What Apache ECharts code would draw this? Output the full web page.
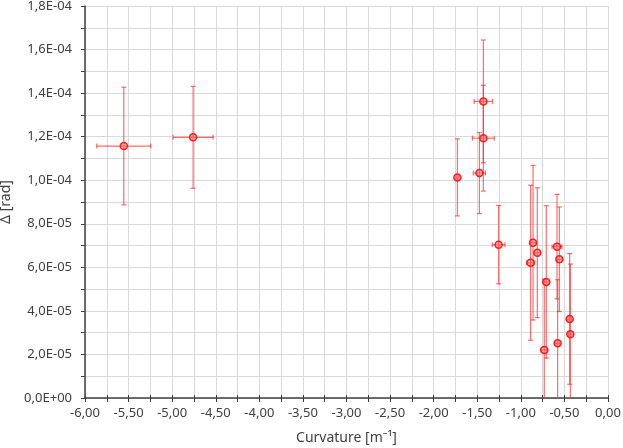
<!DOCTYPE html>
<html>
<head>
<meta charset="utf-8">
<script src="https://cdn.jsdelivr.net/npm/echarts@6/dist/echarts.min.js"></script>
<style>html,body{margin:0;padding:0;background:#fff}#c{width:623px;height:448px}</style>
</head>
<body>
<div id="c"></div>
<script>
// Data
var curvature = [-5.555, -4.76, -1.43, -1.43, -1.475, -1.728, -1.255, -0.86, -0.811, -0.888, -0.708, -0.731, -0.585, -0.558, -0.578, -0.44, -0.432];
var curvatureErr = [0.31, 0.23, 0.105, 0.125, 0.07, 0.015, 0.073, 0.03, 0.03, 0.046, 0.03, 0.038, 0.057, 0.03, 0.02, 0.02, 0.02];
var delta = [1.157e-4, 1.197e-4, 1.362e-4, 1.193e-4, 1.033e-4, 1.013e-4, 0.704e-4, 0.713e-4, 0.667e-4, 0.621e-4, 0.533e-4, 0.220e-4, 0.695e-4, 0.637e-4, 0.251e-4, 0.363e-4, 0.293e-4];
var deltaErr = [2.70e-5, 2.34e-5, 2.82e-5, 2.43e-5, 1.86e-5, 1.77e-5, 1.80e-5, 3.55e-5, 2.98e-5, 3.56e-5, 3.50e-5, 3.26e-5, 2.40e-5, 2.40e-5, 2.92e-5, 3.00e-5, 3.22e-5];
var xAxisMin = -6, xAxisMax = 0, xStep = 0.5;
var yAxisMin = 0, yAxisMax = 1.8e-4, yStep = 2e-5;

var pts = curvature.map(function (x, i) { return [x, delta[i], curvatureErr[i], deltaErr[i]]; });

function fmtX(v) { return v.toFixed(2).replace('.', ','); }
function fmtY(v) {
  if (Math.abs(v) < 1e-12) return '0,0E+00';
  var s = v.toExponential(1).split('e');
  var e = parseInt(s[1], 10);
  var es = (e < 0 ? '-' : '+') + (Math.abs(e) < 10 ? '0' : '') + Math.abs(e);
  return s[0].replace('.', ',') + 'E' + es;
}

var errColor = 'rgba(255,40,40,0.68)';
var font = 'Noto Sans';
var textColor = '#404040';
var axisColor = '#404040';
var gridColor = '#d9d9d9';

var chart = echarts.init(document.getElementById('c'), null, { renderer: 'canvas' });
chart.setOption({
  animation: false,
  backgroundColor: '#fff',
  grid: { left: 85, top: 6, width: 523, height: 392, containLabel: false, outerBoundsMode: 'none' },
  xAxis: [{
    type: 'value', min: xAxisMin, max: xAxisMax, interval: xStep,
    name: 'Curvature [m\u207B\u00B9]', nameLocation: 'middle', nameGap: 33,
    nameTextStyle: { fontFamily: font, fontSize: 14, color: textColor },
    axisLine: { onZero: false, lineStyle: { color: axisColor, width: 1.5 } },
    axisTick: { show: true, length: 4, lineStyle: { color: axisColor } },
    minorTick: { show: true, splitNumber: 2, length: 4, lineStyle: { color: axisColor } },
    axisLabel: { formatter: fmtX, fontFamily: font, fontSize: 13, color: textColor, margin: 9 },
    splitLine: { show: true, lineStyle: { color: gridColor, width: 1 } },
    minorSplitLine: { show: true, lineStyle: { color: gridColor, width: 1 } }
  }, {
    type: 'value', min: xAxisMin, max: xAxisMax, interval: xStep, position: 'bottom',
    axisLine: { show: false }, axisLabel: { show: false }, splitLine: { show: false },
    axisTick: { show: true, inside: true, length: 3, lineStyle: { color: axisColor } },
    minorTick: { show: true, splitNumber: 2, length: 3, lineStyle: { color: axisColor } }
  }],
  yAxis: {
    type: 'value', min: yAxisMin, max: yAxisMax, interval: yStep,
    name: '\u0394 [rad]', nameLocation: 'middle', nameGap: 71,
    nameTextStyle: { fontFamily: font, fontSize: 14, color: textColor },
    axisLine: { show: true, onZero: false, lineStyle: { color: axisColor, width: 1.5 } },
    axisTick: { show: true, length: 4, lineStyle: { color: axisColor } },
    minorTick: { show: true, splitNumber: 2, length: 4, lineStyle: { color: axisColor } },
    axisLabel: { formatter: fmtY, fontFamily: font, fontSize: 13, color: textColor, margin: 13 },
    splitLine: { show: true, lineStyle: { color: gridColor, width: 1 } },
    minorSplitLine: { show: true, lineStyle: { color: gridColor, width: 1 } }
  },
  series: [{
    type: 'custom',
    data: pts,
    z: 2,
    renderItem: function (params, api) {
      var x = api.value(0), y = api.value(1), ex = api.value(2), ey = api.value(3);
      var children = [];
      var cap = 2.5;
      var style = { stroke: errColor, lineWidth: 1.2 };
      var yLo = y - ey, yHi = y + ey;
      var lowClipped = yLo < yAxisMin;
      var pLo = api.coord([x, Math.max(yLo, yAxisMin)]);
      var pHi = api.coord([x, Math.min(yHi, yAxisMax)]);
      children.push({ type: 'line', shape: { x1: pLo[0], y1: pLo[1], x2: pHi[0], y2: pHi[1] }, style: style });
      children.push({ type: 'line', shape: { x1: pHi[0] - cap, y1: pHi[1], x2: pHi[0] + cap, y2: pHi[1] }, style: style });
      if (!lowClipped) children.push({ type: 'line', shape: { x1: pLo[0] - cap, y1: pLo[1], x2: pLo[0] + cap, y2: pLo[1] }, style: style });
      var pL = api.coord([x - ex, y]);
      var pR = api.coord([x + ex, y]);
      children.push({ type: 'line', shape: { x1: pL[0], y1: pL[1], x2: pR[0], y2: pR[1] }, style: style });
      children.push({ type: 'line', shape: { x1: pL[0], y1: pL[1] - cap, x2: pL[0], y2: pL[1] + cap }, style: style });
      children.push({ type: 'line', shape: { x1: pR[0], y1: pR[1] - cap, x2: pR[0], y2: pR[1] + cap }, style: style });
      return { type: 'group', children: children };
    }
  }, {
    type: 'scatter',
    data: pts.map(function (p) { return [p[0], p[1]]; }),
    symbol: 'circle', symbolSize: 7, z: 3,
    itemStyle: { color: 'rgba(255,110,110,0.5)', borderColor: '#ff1a1a', borderWidth: 1.5, opacity: 1 }
  }]
});
</script>
</body>
</html>
